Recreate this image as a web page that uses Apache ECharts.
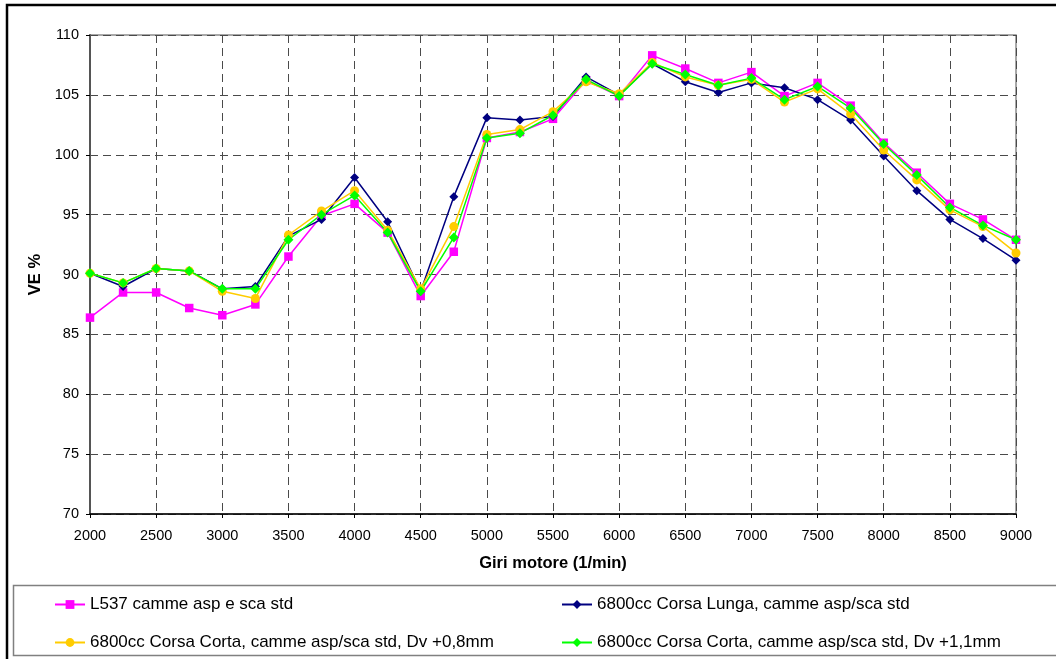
<!DOCTYPE html>
<html>
<head>
<meta charset="utf-8">
<script src="https://cdn.jsdelivr.net/npm/echarts@6/dist/echarts.min.js"></script>
<style>
  html, body { margin: 0; padding: 0; background: #ffffff; }
  #chart { width: 1056px; height: 659px; }
</style>
</head>
<body>
<div id="chart"></div>
<script>
// Engine speed (1/min)
const rpm = [2000, 2250, 2500, 2750, 3000, 3250, 3500, 3750, 4000, 4250, 4500, 4750, 5000, 5250,
             5500, 5750, 6000, 6250, 6500, 6750, 7000, 7250, 7500, 7750, 8000, 8250, 8500, 8750, 9000];

// Volumetric efficiency VE % for each configuration
const l537Std = [86.4, 88.5, 88.5, 87.2, 86.6, 87.5, 91.5, 94.9, 95.9, 93.5, 88.2, 91.9, 101.4, 101.9,
                 103.0, 106.2, 104.9, 108.3, 107.2, 106.0, 106.9, 104.9, 106.0, 104.1, 101.0, 98.5, 95.9, 94.6, 92.9];
const corsaLunga = [90.1, 89.0, 90.5, 90.3, 88.8, 89.0, 93.2, 94.6, 98.1, 94.4, 88.6, 96.5, 103.1, 102.9,
                    103.2, 106.5, 105.0, 107.6, 106.1, 105.2, 106.0, 105.6, 104.6, 102.9, 99.9, 97.0, 94.6, 93.0, 91.2];
const corsaCorta08 = [90.1, 89.3, 90.5, 90.3, 88.6, 88.0, 93.3, 95.3, 97.0, 93.7, 88.8, 94.0, 101.7, 102.1,
                      103.6, 106.1, 105.1, 107.7, 106.5, 105.8, 106.3, 104.4, 105.5, 103.4, 100.4, 97.9, 95.4, 94.0, 91.8];
const corsaCorta11 = [90.1, 89.3, 90.5, 90.3, 88.8, 88.8, 92.9, 95.0, 96.6, 93.5, 88.6, 93.1, 101.4, 101.8,
                      103.3, 106.3, 104.9, 107.6, 106.7, 105.8, 106.4, 104.6, 105.7, 103.9, 100.9, 98.3, 95.6, 94.1, 92.9];

const seriesNames = [
  'L537 camme asp e sca std',
  '6800cc Corsa Lunga, camme asp/sca std',
  '6800cc Corsa Corta, camme asp/sca std, Dv +0,8mm',
  '6800cc Corsa Corta, camme asp/sca std, Dv +1,1mm'
];

const xTicks = { min: 2000, max: 9000, step: 500 };
const yTicks = { min: 70, max: 110, step: 5 };

const pairs = vals => rpm.map((r, i) => [r, vals[i]]);

const FONT = '"Liberation Sans", Arial, sans-serif';

function lineSeries(name, vals, color, symbol, size) {
  return {
    name: name,
    type: 'line',
    data: pairs(vals),
    symbol: symbol,
    symbolSize: size,
    showSymbol: true,
    lineStyle: { color: color, width: 1.5 },
    itemStyle: { color: color, borderWidth: 0 },
    emphasis: { disabled: true },
    animation: false
  };
}

const chart = echarts.init(document.getElementById('chart'), null, { renderer: 'canvas' });

const legendBase = {
  orient: 'horizontal',
  itemWidth: 30,
  itemHeight: 11,
  itemGap: 4,
  textStyle: { fontFamily: FONT, fontSize: 17, color: '#000' },
  selectedMode: false
};

chart.setOption({
  backgroundColor: '#ffffff',
  animation: false,
  textStyle: { fontFamily: FONT },
  grid: {
    left: 90, right: 40, top: 35, bottom: 145,
    show: true, borderColor: '#8c8c8c', borderWidth: 1.5
  },
  xAxis: {
    type: 'value',
    min: xTicks.min, max: xTicks.max, interval: xTicks.step,
    name: 'Giri motore (1/min)',
    nameLocation: 'middle',
    nameGap: 41,
    nameTextStyle: { fontFamily: FONT, fontSize: 16.5, fontWeight: 'bold', color: '#000' },
    axisLine: { show: true, onZero: false, lineStyle: { color: '#000', width: 1.5 } },
    axisTick: { show: true, length: 4, lineStyle: { color: '#000' } },
    axisLabel: {
      fontFamily: FONT, fontSize: 14.5, color: '#000', margin: 14,
      formatter: v => String(v)
    },
    splitLine: { show: true, lineStyle: { color: '#4a4a4a', type: [8, 5], width: 1 } }
  },
  yAxis: {
    type: 'value',
    min: yTicks.min, max: yTicks.max, interval: yTicks.step,
    name: 'VE %',
    nameLocation: 'middle',
    nameGap: 44,
    nameTextStyle: { fontFamily: FONT, fontSize: 16.5, fontWeight: 'bold', color: '#000' },
    axisLine: { show: true, lineStyle: { color: '#555', width: 2 } },
    axisTick: { show: true, length: 4, lineStyle: { color: '#000' } },
    axisLabel: { fontFamily: FONT, fontSize: 14.5, color: '#000', margin: 11 },
    splitLine: { show: true, lineStyle: { color: '#4a4a4a', type: [8, 5], width: 1 } }
  },
  legend: [
    Object.assign({ data: [seriesNames[0]], left: 49, top: 591 }, legendBase),
    Object.assign({ data: [seriesNames[1]], left: 556, top: 591 }, legendBase),
    Object.assign({ data: [seriesNames[2]], left: 49, top: 629 }, legendBase),
    Object.assign({ data: [seriesNames[3]], left: 556, top: 629 }, legendBase)
  ],
  graphic: [
    {
      type: 'rect', silent: true, z: -1,
      shape: { x: 7, y: 5, width: 1080, height: 700 },
      style: { fill: 'none', stroke: '#000', lineWidth: 2.5 }
    },
    {
      type: 'rect', silent: true, z: -1,
      shape: { x: 13.5, y: 585.5, width: 1080, height: 70 },
      style: { fill: 'none', stroke: '#808080', lineWidth: 1.5 }
    }
  ],
  series: [
    lineSeries(seriesNames[0], l537Std, '#ff00ff', 'rect', 8.5),
    lineSeries(seriesNames[1], corsaLunga, '#000080', 'diamond', 9),
    lineSeries(seriesNames[2], corsaCorta08, '#ffcc00', 'circle', 9),
    lineSeries(seriesNames[3], corsaCorta11, '#00ff00', 'diamond', 10)
  ]
});
</script>
</body>
</html>
